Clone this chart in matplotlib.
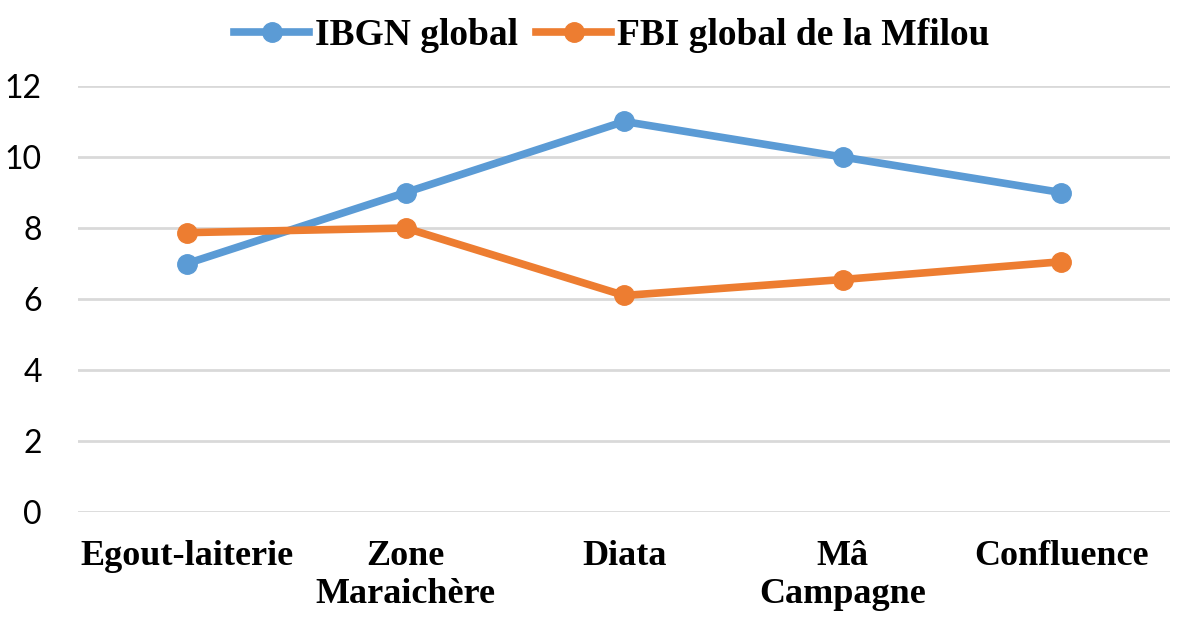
import matplotlib
matplotlib.use("Agg")
import matplotlib.pyplot as plt

# stations et valeurs
stations = ["Egout-laiterie", "Zone\nMaraichère", "Diata", "Mâ\nCampagne", "Confluence"]
ibgn = [7, 9, 11, 10, 9]
fbi = [7.87, 8.0, 6.1, 6.55, 7.05]
yticks = [0, 2, 4, 6, 8, 10, 12]

blue = "#5B9BD5"
orange = "#ED7D31"

fig = plt.figure(figsize=(11.81, 6.23), dpi=100)
ax = fig.add_axes([0.066, 0.178, 0.925, 0.684])

x = list(range(len(stations)))
ax.plot(x, ibgn, "-o", color=blue, linewidth=5.5, markersize=14, label="IBGN global")
ax.plot(x, fbi, "-o", color=orange, linewidth=5.5, markersize=14, label="FBI global de la Mfilou")

ax.set_xlim(-0.5, len(stations) - 0.5)
ax.set_ylim(0, 12)
ax.set_yticks(yticks)
ax.set_xticks(x)
ax.set_xticklabels(stations, family="Liberation Serif", fontweight="bold", fontsize=26,
                   linespacing=1.2)
for lab in ax.get_yticklabels():
    lab.set_family("Lato")
    lab.set_fontsize(23)

ax.grid(axis="y", color="#D9D9D9", linewidth=2)
ax.set_axisbelow(True)
for s in ax.spines.values():
    s.set_visible(False)
ax.tick_params(axis="both", length=0)
ax.tick_params(axis="x", pad=20)
ax.tick_params(axis="y", pad=26)

fig.legend(loc="upper center", bbox_to_anchor=(0.518, 1.025), ncol=2, frameon=False,
           prop={"family": "Liberation Serif", "weight": "bold", "size": 27},
           handlelength=2.0, columnspacing=0.5, handletextpad=0.15)

fig.savefig("out.png", dpi=100)
